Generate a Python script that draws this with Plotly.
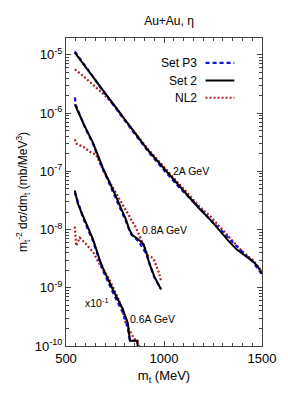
import plotly.graph_objects as go

# ---- data (values as plotted) ----
# 2A GeV
mt_2A_set2 = [545, 600, 650, 700, 722, 780, 838, 900, 924, 1000, 1076, 1143, 1177, 1244, 1294, 1330, 1370, 1412, 1455, 1480, 1500]
lg_2A_set2 = [-4.96, -5.21, -5.44, -5.67, -5.77, -6.03, -6.29, -6.56, -6.66, -6.95, -7.24, -7.49, -7.63, -7.86, -8.06, -8.20, -8.34, -8.45, -8.55, -8.64, -8.76]
mt_2A_p3 = [545, 600, 700, 838, 924, 1000, 1076, 1143, 1177, 1244, 1294, 1350, 1412, 1455, 1500]
lg_2A_p3 = [-4.94, -5.20, -5.67, -6.30, -6.68, -6.98, -7.27, -7.50, -7.61, -7.86, -8.02, -8.22, -8.43, -8.56, -8.77]
mt_2A_nl2 = [545, 580, 620, 660, 700, 750, 838, 924, 1000, 1076, 1177, 1244, 1294, 1350, 1400, 1455, 1500]
lg_2A_nl2 = [-5.25, -5.34, -5.46, -5.58, -5.70, -5.88, -6.28, -6.64, -6.93, -7.21, -7.59, -7.80, -7.99, -8.20, -8.38, -8.53, -8.72]

# 0.8A GeV
mt_08_set2 = [545, 570, 596, 638, 672, 688, 747, 806, 823, 840, 870, 895, 910, 925, 950, 985]
lg_08_set2 = [-5.85, -6.05, -6.23, -6.51, -6.80, -6.94, -7.37, -7.83, -8.00, -8.10, -8.17, -8.25, -8.40, -8.58, -8.80, -9.03]
mt_08_p3 = [545, 550, 596, 638, 688, 747, 806, 832, 870, 910, 950, 985]
lg_08_p3 = [-5.73, -5.86, -6.24, -6.53, -6.96, -7.40, -7.86, -8.08, -8.20, -8.42, -8.82, -9.02]
mt_08_nl2 = [545, 555, 590, 620, 655, 688, 722, 747, 806, 857, 899, 916, 935, 949, 975, 985]
lg_08_nl2 = [-6.45, -6.53, -6.58, -6.66, -6.72, -6.97, -7.18, -7.33, -7.69, -7.97, -8.29, -8.44, -8.47, -8.52, -8.75, -8.89]

# 0.6A GeV (x10^-1)
mt_06_set2 = [545, 560, 587, 638, 672, 688, 739, 789, 815, 826, 865, 866]
lg_06_set2 = [-7.33, -7.55, -7.77, -8.17, -8.52, -8.66, -9.03, -9.36, -9.60, -9.91, -9.91, -10.2]
mt_06_p3 = [545, 587, 638, 688, 739, 789, 815, 826, 850]
lg_06_p3 = [-7.36, -7.80, -8.20, -8.70, -9.08, -9.42, -9.68, -9.91, -9.91]
mt_06_nl2 = [545, 552, 570, 600, 640, 672, 722, 773, 806, 840, 874]
lg_06_nl2 = [-7.95, -8.28, -8.14, -8.24, -8.40, -8.60, -8.86, -9.23, -9.62, -9.83, -10.0]

series_labels = ["Set P3", "Set 2", "NL2"]
energy_labels = ["2A GeV", "0.8A GeV", "0.6A GeV"]
x_ticks = [500, 1000, 1500]
y_decades = [-10, -9, -8, -7, -6, -5]

BLUE = "#1010f0"
BLACK = "#000000"
RED = "#b22222"
FONT = "Liberation Sans, Arial, sans-serif"

def v(lg):
    return [10 ** a for a in lg]

fig = go.Figure()
styles = {
    "Set P3": dict(color=BLUE, width=2.2, dash="4px,3px"),
    "Set 2": dict(color=BLACK, width=2, dash="solid"),
    "NL2": dict(color=RED, width=2.2, dash="2px,2px"),
}
groups = [
    (mt_2A_p3, lg_2A_p3, mt_2A_set2, lg_2A_set2, mt_2A_nl2, lg_2A_nl2),
    (mt_08_p3, lg_08_p3, mt_08_set2, lg_08_set2, mt_08_nl2, lg_08_nl2),
    (mt_06_p3, lg_06_p3, mt_06_set2, lg_06_set2, mt_06_nl2, lg_06_nl2),
]
for g in groups:
    fig.add_trace(go.Scatter(x=g[4], y=v(g[5]), mode="lines", line=styles["NL2"], showlegend=False))
    fig.add_trace(go.Scatter(x=g[0], y=v(g[1]), mode="lines", line=styles["Set P3"], showlegend=False))
    fig.add_trace(go.Scatter(x=g[2], y=v(g[3]), mode="lines", line=styles["Set 2"], showlegend=False))

# custom legend (text left of sample line)
leg_y = [0.919, 0.862, 0.806]
for name, yy in zip(series_labels, leg_y):
    fig.add_annotation(x=0.677, y=yy, xref="paper", yref="paper", text=name, showarrow=False,
                       xanchor="right", yanchor="middle", font=dict(size=12, family=FONT, color="black"))
    fig.add_shape(type="line", xref="paper", yref="paper", x0=0.712, x1=0.859, y0=yy, y1=yy,
                  line=styles[name])

# curve labels
ann = [
    (1136, -7.0, energy_labels[0]),
    (1005, -8.0, energy_labels[1]),
    (940, -9.53, energy_labels[2]),
    (656, -9.25, "x10<sup>-1</sup>"),
]
for x, y, t in ann:
    fig.add_annotation(x=x, y=y, text=t, showarrow=False, xanchor="center", yanchor="middle",
                       font=dict(size=10.5, family=FONT, color="black"))

y_minor = [m * 10 ** d for d in range(-10, -4) for m in range(2, 10) if m * 10 ** d < 10 ** -4.71]

# page body has an 8px default margin: figure is 280x395 so it fits the 288x403 window
fig.update_layout(
    width=280, height=395,
    margin=dict(l=58, r=24, t=30, b=57),
    paper_bgcolor="white", plot_bgcolor="white",
    font=dict(family=FONT, color="black"),
    title=dict(text="Au+Au, η", x=0.575, xanchor="center", y=1 - 13 / 395, yanchor="middle",
               font=dict(size=12, family=FONT, color="black")),
    showlegend=False,
    xaxis=dict(
        range=[500, 1500], tickvals=x_ticks, ticktext=[str(t) for t in x_ticks],
        ticks="inside", ticklen=5, tickcolor="#444", showgrid=False, zeroline=False,
        showline=True, linecolor="#444", linewidth=1, mirror="allticks",
        tickfont=dict(size=13, family=FONT),
        minor=dict(tickvals=list(range(550, 1500, 50)), ticks="inside", ticklen=3, tickcolor="#444", showgrid=False),
        title=dict(text="m<sub>t</sub> (MeV)", font=dict(size=13, family=FONT), standoff=6),
    ),
    yaxis=dict(
        type="log", range=[-10, -4.71],
        tickvals=[10 ** d for d in y_decades],
        ticktext=["10<sup>%d</sup>" % d for d in y_decades],
        ticks="inside", ticklen=5, tickcolor="#444", showgrid=False, zeroline=False,
        showline=True, linecolor="#444", linewidth=1, mirror="allticks",
        tickfont=dict(size=13, family=FONT),
        minor=dict(tickvals=y_minor, ticks="inside", ticklen=3, tickcolor="#444", showgrid=False),
        title=dict(text="m<sub>t</sub><sup>-2</sup> dσ/dm<sub>t</sub> (mb/MeV<sup>3</sup>)",
                   font=dict(size=12, family=FONT), standoff=4),
    ),
)

fig.write_html("out.html")
